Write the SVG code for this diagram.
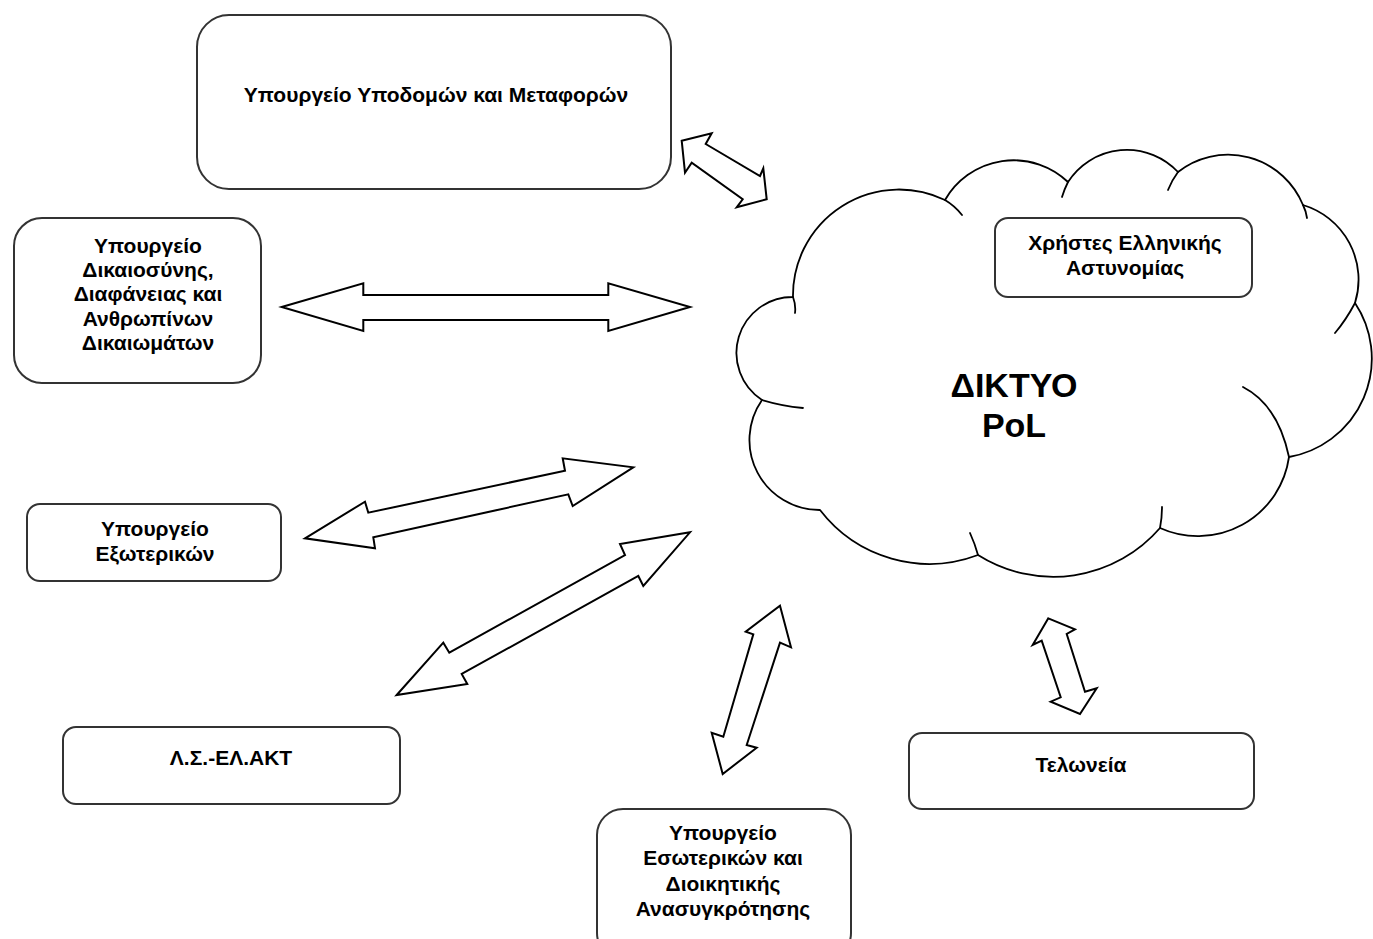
<svg xmlns="http://www.w3.org/2000/svg" width="1373" height="939" viewBox="0 0 1373 939">
<style>
.box{fill:#fff;stroke:#333;stroke-width:2}
.t{font-family:"Liberation Sans",Arial,sans-serif;font-weight:bold;font-size:21px;fill:#000;text-anchor:middle}
.arr{fill:#fff;stroke:#000;stroke-width:2;stroke-linejoin:miter}
.cloud{fill:#fff;stroke:#000;stroke-width:1.8;stroke-linejoin:round}
.inner{fill:none;stroke:#000;stroke-width:1.8;stroke-linecap:round}
.big{font-family:"Liberation Sans",Arial,sans-serif;font-weight:bold;font-size:34px;fill:#000;text-anchor:middle}
</style>
<rect width="1373" height="939" fill="#fff"/>
<g id="cloud">
<path class="cloud" d="M793,297 A106,106 0 0 1 945,200 A79,79 0 0 1 1068,182 A70,70 0 0 1 1178,172 A81,81 0 0 1 1303,205 A78,78 0 0 1 1355,303 A100,100 0 0 1 1289,457 A92,92 0 0 1 1160,528 A141,141 0 0 1 978,555 A138,138 0 0 1 820,510 A70,70 0 0 1 762,400 A56,56 0 0 1 793,297 Z"/>
<path class="inner" d="M793,297 Q796,305 795,313 M945,200 Q955,206 962,215 M1068,182 Q1064,190 1062,197 M1178,172 Q1172,180 1168,190 M1303,205 Q1306,211 1307,218 M1355,303 Q1346,320 1335,333 M1243,387 Q1278,405 1289,457 M1162,507 Q1162,518 1160,528 M970,533 Q975,544 978,555 M803,408 Q782,406 762,400"/>
<text class="big" x="1014" y="397">ΔΙΚΤΥΟ</text>
<text class="big" x="1014" y="437">PoL</text>
</g>
<g id="connectors">
<polygon class="arr" points="681.7,140.7 711.7,133.3 705.7,144 760,176 763.3,168.3 766.7,199.3 736.7,207.3 742.7,199.3 691.7,162.7 685,172.7"/>
<polygon class="arr" points="281.7,307 363.3,283.3 363.3,295 608.3,295 608.3,283.3 690,307 608.3,331 608.3,320 363.3,320 363.3,331"/>
<polygon class="arr" points="305,538.3 365,501.7 368.3,512.7 565,470.7 562.7,458.3 633.3,467.3 572.7,506 568.3,494.3 373.3,537.3 375,548.3"/>
<polygon class="arr" points="396.7,695 443.3,642.7 449.3,652.7 625,555 620,544 690,532.3 643.3,586 638.3,576 461.7,674 467.3,684"/>
<polygon class="arr" points="780,605.7 791,647.3 780,642.7 746.7,745 756.7,747.7 722.7,774 711.7,732.7 723.3,736.7 753.3,634.3 745.7,631.7"/>
<polygon class="arr" points="1048.3,618.3 1075,629.3 1066.7,634 1085,691.7 1096.7,688.3 1080,714 1050.7,701.7 1060.7,697.3 1041.7,640.7 1032.7,645"/>
</g>
<g id="n-ypodomon">
<rect class="box" x="197" y="15" width="474" height="174" rx="32"/>
<text class="t" x="436" y="102">Υπουργείο Υποδομών και Μεταφορών</text>
</g>
<g id="n-dikaiosynis">
<rect class="box" x="14" y="218" width="247" height="165" rx="28"/>
<text class="t" x="148" y="252.5">Υπουργείο</text>
<text class="t" x="148" y="277">Δικαιοσύνης,</text>
<text class="t" x="148" y="301">Διαφάνειας και</text>
<text class="t" x="148" y="325.5">Ανθρωπίνων</text>
<text class="t" x="148" y="350">Δικαιωμάτων</text>
</g>
<g id="n-exoterikon">
<rect class="box" x="27" y="504" width="254" height="77" rx="13"/>
<text class="t" x="155" y="535.5">Υπουργείο</text>
<text class="t" x="155" y="560.5">Εξωτερικών</text>
</g>
<g id="n-ls">
<rect class="box" x="63" y="727" width="337" height="77" rx="13"/>
<text class="t" x="231" y="765">Λ.Σ.-ΕΛ.ΑΚΤ</text>
</g>
<g id="n-esoterikon">
<rect class="box" x="597" y="809" width="254" height="150" rx="26"/>
<text class="t" x="723" y="839.5">Υπουργείο</text>
<text class="t" x="723" y="864.5">Εσωτερικών και</text>
<text class="t" x="723" y="890.5">Διοικητικής</text>
<text class="t" x="723" y="915.5">Ανασυγκρότησης</text>
</g>
<g id="n-telonia">
<rect class="box" x="909" y="733" width="345" height="76" rx="13"/>
<text class="t" x="1081" y="772">Τελωνεία</text>
</g>
<g id="n-xristes">
<rect class="box" x="995" y="218" width="257" height="79" rx="13"/>
<text class="t" x="1125" y="250">Χρήστες Ελληνικής</text>
<text class="t" x="1125" y="275">Αστυνομίας</text>
</g>
</svg>
